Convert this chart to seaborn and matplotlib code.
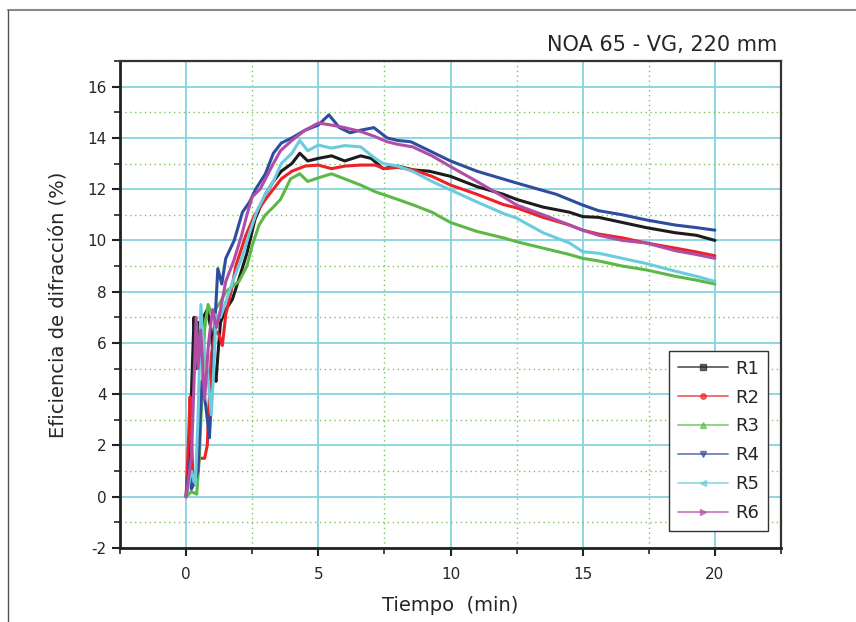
import numpy as np
import pandas as pd
import matplotlib
matplotlib.use("Agg")
import matplotlib.pyplot as plt
from matplotlib.lines import Line2D
from matplotlib.ticker import MultipleLocator
import seaborn as sns

# ---------------- data ----------------
series_names = ["R1", "R2", "R3", "R4", "R5", "R6"]

r1_t = [0, 0.15, 0.25, 0.3, 0.38, 0.45, 0.55, 0.65, 0.8, 0.95, 1.05, 1.13, 1.2, 1.3, 1.5, 1.75, 2.0, 2.3, 2.6,
        3.0, 3.3, 3.6, 4.0, 4.3, 4.6, 5.0, 5.5, 6.0, 6.6, 7.0, 7.45, 8.0, 8.6, 9.2, 10.0, 11.0, 12.0, 12.5,
        13.5, 14.5, 15.0, 15.6, 16.5, 17.4, 18.5, 19.3, 20.0]
r1_v = [0, 2.5, 5.5, 7.0, 5.0, 6.8, 6.0, 7.0, 7.3, 6.5, 5.0, 4.5, 5.5, 6.8, 7.3, 7.7, 8.5, 9.5, 10.8,
        11.8, 12.3, 12.7, 13.0, 13.4, 13.1, 13.2, 13.3, 13.1, 13.3, 13.2, 12.8, 12.9, 12.75, 12.7, 12.5, 12.1,
        11.8, 11.6, 11.3, 11.1, 10.93, 10.9, 10.7, 10.5, 10.3, 10.2, 10.0]

r2_t = [0, 0.1, 0.15, 0.25, 0.35, 0.5, 0.7, 0.8, 0.95, 1.1, 1.25, 1.37, 1.5, 1.7, 1.88, 2.26, 2.6, 3.0, 3.3,
        3.6, 4.0, 4.5, 5.0, 5.5, 6.0, 6.6, 7.15, 7.5, 8.0, 8.6, 9.3, 10.0, 11.0, 12.0, 12.5, 13.5, 14.5, 15.0,
        15.6, 16.5, 17.4, 18.5, 19.3, 20.0]
r2_v = [0, 2.5, 3.9, 1.0, 0.5, 1.5, 1.5, 2.0, 5.5, 6.5, 6.3, 5.9, 7.1, 8.0, 9.0, 10.2, 11.0, 11.6, 12.0,
        12.4, 12.7, 12.9, 12.94, 12.8, 12.9, 12.94, 12.94, 12.8, 12.85, 12.75, 12.5, 12.16, 11.8, 11.4, 11.27,
        10.9, 10.6, 10.4, 10.25, 10.1, 9.9, 9.7, 9.55, 9.4]

r3_t = [0, 0.2, 0.4, 0.5, 0.6, 0.7, 0.83, 0.95, 1.1, 1.3, 1.5, 1.75, 2.0, 2.3, 2.5, 2.76, 3.0, 3.3, 3.57,
        3.95, 4.3, 4.6, 5.0, 5.5, 6.0, 6.6, 7.15, 8.0, 8.6, 9.3, 10.0, 11.0, 12.0, 12.5, 13.5, 14.5, 15.0,
        15.6, 16.5, 17.4, 18.5, 19.3, 20.0]
r3_v = [0, 0.2, 0.1, 1.5, 4.0, 6.5, 7.5, 7.2, 7.3, 7.6, 8.0, 8.2, 8.4, 9.0, 9.8, 10.6, 11.0, 11.3, 11.6,
        12.4, 12.6, 12.3, 12.44, 12.6, 12.4, 12.16, 11.9, 11.6, 11.38, 11.1, 10.7, 10.35, 10.1, 9.95, 9.7,
        9.45, 9.3, 9.2, 9.0, 8.85, 8.6, 8.45, 8.3]

r4_t = [0, 0.15, 0.2, 0.3, 0.45, 0.6, 0.75, 0.88, 1.0, 1.1, 1.2, 1.35, 1.5, 1.82, 2.13, 2.4, 2.63, 3.0, 3.3,
        3.6, 4.0, 4.5, 5.0, 5.4, 5.8, 6.2, 6.6, 7.1, 7.6, 8.0, 8.5, 9.2, 10.0, 11.0, 12.5, 14.0, 15.0, 15.6,
        16.5, 17.4, 18.5, 19.3, 20.0]
r4_v = [0, 1.5, 0.3, 0.5, 1.0, 4.5, 3.5, 2.3, 4.5, 7.0, 8.9, 8.3, 9.3, 10.0, 11.1, 11.5, 12.0, 12.6, 13.4,
        13.8, 14.0, 14.3, 14.5, 14.9, 14.4, 14.2, 14.3, 14.4, 14.0, 13.9, 13.85, 13.5, 13.1, 12.7, 12.24, 11.8,
        11.38, 11.16, 11.0, 10.8, 10.6, 10.5, 10.4]

r5_t = [0, 0.2, 0.35, 0.45, 0.56, 0.65, 0.8, 0.95, 1.05, 1.13, 1.3, 1.5, 1.8, 2.1, 2.4, 2.7, 3.0, 3.3, 3.6,
        4.0, 4.3, 4.6, 5.0, 5.5, 6.0, 6.6, 7.15, 7.45, 8.0, 8.6, 9.3, 10.0, 11.0, 12.0, 12.5, 13.5, 14.5, 15.0,
        15.6, 16.5, 17.4, 18.5, 19.3, 20.0]
r5_v = [0, 1.0, 0.5, 3.0, 7.5, 6.0, 5.0, 3.2, 5.0, 7.1, 7.0, 7.6, 8.5, 9.3, 10.3, 11.2, 11.8, 12.3, 13.0,
        13.4, 13.9, 13.5, 13.72, 13.6, 13.7, 13.65, 13.2, 13.0, 12.9, 12.68, 12.3, 11.97, 11.5, 11.05, 10.87,
        10.3, 9.9, 9.56, 9.5, 9.3, 9.1, 8.8, 8.6, 8.4]

r6_t = [0, 0.2, 0.3, 0.38, 0.45, 0.55, 0.7, 0.85, 1.0, 1.15, 1.3, 1.5, 1.8, 2.1, 2.3, 2.5, 2.8, 3.0, 3.3,
        3.57, 4.0, 4.5, 5.0, 5.5, 6.0, 6.6, 7.15, 7.6, 8.0, 8.57, 9.3, 10.0, 11.0, 12.0, 12.5, 13.5, 14.5,
        15.0, 15.6, 16.5, 17.4, 18.5, 19.3, 20.0]
r6_v = [0, 1.5, 4.5, 7.0, 5.0, 6.5, 3.8, 6.0, 7.3, 6.6, 7.3, 8.4, 9.2, 10.2, 11.0, 11.7, 12.0, 12.4, 13.0,
        13.5, 13.9, 14.3, 14.58, 14.5, 14.4, 14.25, 14.05, 13.85, 13.75, 13.65, 13.3, 12.88, 12.3, 11.7,
        11.38, 11.0, 10.6, 10.4, 10.2, 10.0, 9.9, 9.6, 9.45, 9.3]

x_ticks = [0, 5, 10, 15, 20]
y_ticks = [-2, 0, 2, 4, 6, 8, 10, 12, 14, 16]

# ---------------- styling ----------------
colors = {"R1": "#1c1c1c", "R2": "#ec2227", "R3": "#5cb947",
          "R4": "#2f4d9e", "R5": "#6ccbdd", "R6": "#b04ea6"}
markers = {"R1": "s", "R2": "o", "R3": "^", "R4": "v", "R5": "<", "R6": ">"}

all_t = [r1_t, r2_t, r3_t, r4_t, r5_t, r6_t]
all_v = [r1_v, r2_v, r3_v, r4_v, r5_v, r6_v]
frames = []
for name, tt, vv in zip(series_names, all_t, all_v):
    frames.append(pd.DataFrame({"t": tt, "v": vv, "run": name}))
df = pd.concat(frames, ignore_index=True)

sns.set_style("white")
plt.rcParams["font.family"] = ["DejaVu Sans"]
plt.rcParams["axes.unicode_minus"] = False

fig = plt.figure(figsize=(8.56, 6.22), dpi=100)
ax = fig.add_axes([120/856, 1-548/622, (781-120)/856, (548-61)/622])

sns.lineplot(data=df, x="t", y="v", hue="run", palette=colors, estimator=None,
             sort=False, linewidth=2.2, legend=False, ax=ax, zorder=3)

ax.set_xlim(-2.5, 22.5)
ax.set_ylim(-2, 17)

ax.xaxis.set_minor_locator(MultipleLocator(2.5))
ax.yaxis.set_minor_locator(MultipleLocator(1))
ax.set_xticks(x_ticks)
ax.set_yticks(y_ticks)

ax.grid(which="major", color="#86d2de", linewidth=1.3, linestyle="-", zorder=0)
ax.grid(which="minor", color="#7cc35a", linewidth=1.0, linestyle=(0, (1, 2.5)), zorder=0)
ax.set_axisbelow(True)

for side in ["bottom", "left"]:
    ax.spines[side].set_linewidth(2.0)
    ax.spines[side].set_color("#222222")
for side in ["top", "right"]:
    ax.spines[side].set_linewidth(1.6)
    ax.spines[side].set_color("#333333")
    ax.spines[side].set_visible(True)

ax.tick_params(axis="both", which="major", direction="out", length=6, width=1.5,
               labelsize=11, color="#222222", bottom=True, left=True)
ax.tick_params(axis="both", which="minor", direction="out", length=4, width=1.2,
               color="#222222", bottom=True, left=True)
ax.tick_params(axis="x", which="major", pad=8)

ax.set_xlabel("Tiempo  (min)", fontsize=14, labelpad=10)
ax.set_ylabel("Eficiencia de difracción (%)", fontsize=14, labelpad=14)

fig.text(777/856, 1-45/622, "NOA 65 - VG, 220 mm", ha="right", va="center", fontsize=15)

handles = []
for name in series_names:
    handles.append(Line2D([0], [0], color=colors[name], alpha=0.65, linewidth=1.4,
                          marker=markers[name], markersize=4,
                          markerfacecolor=colors[name], markeredgecolor=colors[name]))
leg = ax.legend(handles, series_names, loc="lower right", bbox_to_anchor=(0.98, 0.035),
                borderaxespad=0, frameon=True, fancybox=False, fontsize=13, handlelength=2.8,
                handletextpad=0.35, labelspacing=0.6, borderpad=0.5, numpoints=1)
leg.get_frame().set_edgecolor("#333333")
leg.get_frame().set_linewidth(1.0)
leg.get_frame().set_alpha(1)

# page frame lines
fig.add_artist(Line2D([8/856, 1], [1-10/622, 1-10/622], transform=fig.transFigure,
                      color="#8a8a8a", linewidth=1.5))
fig.add_artist(Line2D([8/856, 8/856], [0, 1-10/622], transform=fig.transFigure,
                      color="#555555", linewidth=1.0))

fig.savefig("out.png", dpi=100)
